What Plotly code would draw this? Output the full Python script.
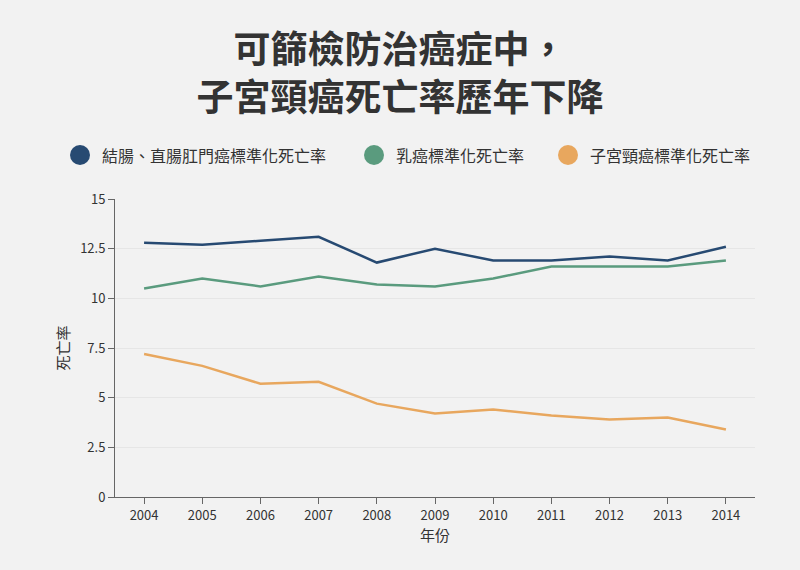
import plotly.graph_objects as go

years = ["2004", "2005", "2006", "2007", "2008", "2009", "2010", "2011", "2012", "2013", "2014"]
colorectal = [12.8, 12.7, 12.9, 13.1, 11.8, 12.5, 11.9, 11.9, 12.1, 11.9, 12.6]
breast = [10.5, 11.0, 10.6, 11.1, 10.7, 10.6, 11.0, 11.6, 11.6, 11.6, 11.9]
cervical = [7.2, 6.6, 5.7, 5.8, 4.7, 4.2, 4.4, 4.1, 3.9, 4.0, 3.4]
series_names = ["結腸、直腸肛門癌標準化死亡率", "乳癌標準化死亡率", "子宮頸癌標準化死亡率"]
colors = ["#274a72", "#5a9b7e", "#e8a75e"]
y_ticks = [0, 2.5, 5, 7.5, 10, 12.5, 15]
y_tick_labels = ["0", "2.5", "5", "7.5", "10", "12.5", "15"]

FONT = "Noto Sans CJK TC, Noto Sans, sans-serif"
W, H = 800, 570
L, R, T, B = 115, 45, 199, 73
PW, PH = W - L - R, H - T - B

def px_x(px):
    return (px - L) / PW

def px_y(py):
    return (H - B - py) / PH

fig = go.Figure()
for name, vals, c in zip(series_names, [colorectal, breast, cervical], colors):
    fig.add_trace(go.Scatter(x=years, y=vals, mode="lines", name=name,
                             line=dict(color=c, width=2.5), showlegend=False))

annotations = []
shapes = []

# Custom legend
legend_circle_x = [80, 374, 568]
legend_text_x = [100, 394, 588]
for name, c, cx, tx in zip(series_names, colors, legend_circle_x, legend_text_x):
    shapes.append(dict(type="circle", xref="paper", yref="paper", xsizemode="pixel", ysizemode="pixel",
                       xanchor=px_x(cx), yanchor=px_y(155), x0=-10, x1=10, y0=-10, y1=10,
                       fillcolor=c, line=dict(width=0)))
    annotations.append(dict(text=name, x=px_x(tx), xref="paper", xanchor="left",
                            y=px_y(155), yref="paper", yanchor="middle", showarrow=False,
                            font=dict(family=FONT, size=16, color="#333333")))

fig.update_layout(
    width=W, height=H,
    margin=dict(l=L, r=R, t=T, b=B),
    paper_bgcolor="#f2f2f2", plot_bgcolor="#f2f2f2",
    font=dict(family=FONT, size=13, color="#333333"),
    title=dict(text="<b>可篩檢防治癌症中，<br>子宮頸癌死亡率歷年下降</b>",
               x=0.5, xref="container", xanchor="center",
               y=1 - 63 / H, yref="container", yanchor="middle",
               font=dict(family=FONT, size=37, color="#333333")),
    annotations=annotations, shapes=shapes,
    showlegend=False,
)
fig.update_xaxes(
    type="category", range=[-0.5, 10.5],
    showline=True, linecolor="#666666", linewidth=1,
    ticks="outside", ticklen=6, tickcolor="#666666",
    showgrid=False, zeroline=False,
    tickfont=dict(family=FONT, size=13, color="#333333"),
    title=dict(text="年份", font=dict(family=FONT, size=15, color="#333333"), standoff=6),
)
fig.update_yaxes(
    range=[0, 15], tickvals=y_ticks, ticktext=y_tick_labels,
    showline=True, linecolor="#666666", linewidth=1,
    ticks="outside", ticklen=6, tickcolor="#666666",
    showgrid=True, gridcolor="#e6e6e6", gridwidth=1, zeroline=False,
    tickfont=dict(family=FONT, size=13, color="#333333"),
    title=dict(text="死亡率", font=dict(family=FONT, size=15, color="#333333"), standoff=6),
)

fig.write_html("out.html", config={"displayModeBar": False},
               post_script="document.body.style.margin='0';document.body.style.overflow='hidden';")
